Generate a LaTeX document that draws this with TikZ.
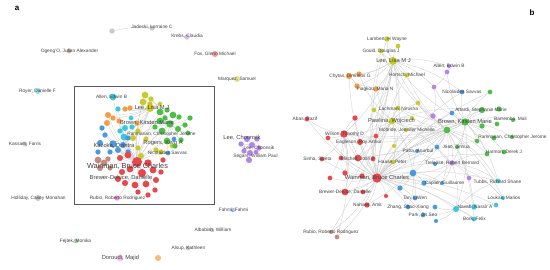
\documentclass[tikz,border=0pt]{standalone}
\usepackage{fontspec}
\setmainfont{Liberation Sans}
\definecolor{vred}{HTML}{E8474C}
\definecolor{vgreen}{HTML}{4DBD45}
\definecolor{vblue}{HTML}{4A98DD}
\definecolor{vyel}{HTML}{CACA2A}
\definecolor{vpurp}{HTML}{B384E3}
\definecolor{vcyan}{HTML}{3BC8DE}
\definecolor{vorng}{HTML}{F39C45}
\definecolor{vbrown}{HTML}{C48A7E}
\definecolor{vpink}{HTML}{EE8BDD}
\definecolor{vgray}{HTML}{C9C9C9}
\definecolor{vlblue}{HTML}{A9CBEF}
\pgfdeclarelayer{bg}
\pgfsetlayers{bg,main}
\tikzset{
  au/.style={circle, inner sep=0pt, minimum size={1.35*#1pt}},
  lbl/.style={font=\fontsize{4.8}{5}\selectfont, text=black!75, inner sep=0pt},
  lblm/.style={font=\fontsize{5.8}{6}\selectfont, text=black!75, inner sep=0pt},
  lblb/.style={font=\fontsize{7.3}{7}\selectfont, text=black!75, inner sep=0pt},
  edge/.style={black!20, line width=0.3pt},
  tag/.style={font=\bfseries\fontsize{8}{8}\selectfont, inner sep=0pt}
}
\begin{document}
\begin{tikzpicture}[x=1pt,y=-1pt]
    \useasboundingbox (0,0) rectangle (550,269);

    % Etiquetas de los paneles
    \node[tag] (pa) at (17,8) {a};
    \node[tag] (pb) at (532,13) {b};

    % Recuadro del panel a
    \node[draw=black!65, line width=0.8pt, minimum width=140pt, minimum height=118pt,
          inner sep=0pt] (zoombox) at (144,145) {};

    % Panel a: autores aislados
    \foreach \n/\x/\y/\c/\s in {ijadA/112/31/vgray/4, ijadB/152/28/vgray/4,
        ikrebs/187/37/vpurp!55/4, iogeng/69/51/vbrown!70/3.5, ifox/215/54/vred!55/4.5,
        imarq/237/79/vyel!55/4.5, iroyer/38/91/vcyan!55/4.5, ikassam/25/144/vgray/3.5,
        iholl/38/198/vgray/4.5, ifahmi/233/210/vlblue/3.5, ialbab/212/230/vgray/3,
        ialsup/188/248/vgray/3.5, iorng/158/258/vorng!70/4.5, ifejtek/76/241/vgreen!55/3.5,
        idor/120/258/vpink!55/5}
        \node[au=\s, fill=\c] (\n) at (\x,\y) {};

    % Panel a: grupo de Lee Choonsik
    \foreach \n/\x/\y/\s in {apA/247/139/4.5, apB/257/139/4, apC/241/144/4, apD/252/145/4.5,
        apE/259/148/4, apF/244/151/4, apG/250/153/4.5, apH/256/152/3.5, apI/249/160/4.5}
        \node[au=\s, fill=vpurp] (\n) at (\x,\y) {};

    % Panel a: red principal
    \foreach \n/\x/\y/\c/\s in {
        ay1/145/95/vyel/5, ay2/151/99/vyel/4, ay3/143/102/vyel/5, ay4/150/104/vyel/4,
        ay5/160/104/vyel/3.5, alee/150/108/vyel/6, ay6/138/131/vyel/4, ay7/133/138/vyel/4.5,
        ay8/146/139/vyel/4, ay9/156/150/vyel/4, ay10/161/152/vyel/4, ay11/138/148/vyel/4,
        ay12/141/156/vyel/4.5, ay13/172/146/vyel/3.5,
        aallen/113/97/vcyan/5, ac1/118/109/vcyan/4, ac2/125/128/vcyan/4.5, ac3/131/118/vcyan/3.5,
        ac4/120/131/vcyan/4, ac5/124/137/vcyan/5, ac6/132/127/vcyan/4,
        ao1/125/109/vorng/4, ao2/130/108/vorng/4, ao3/108/115/vorng/4.5, ao4/113/118/vorng/4,
        ao5/107/123/vorng/4.5, ao6/137/123/vorng/4, ao7/119/121/vorng/4,
        ag1/160/112/vgreen/5, ag2/167/110/vgreen/4, ag3/173/115/vgreen/5, ag4/165/118/vgreen/4,
        ag5/179/117/vgreen/4, ag6/160/121/vgreen/5, abrown/170/124/vgreen/5.5, ag7/185/125/vgreen/4,
        ag8/178/129/vgreen/4.5, ag9/162/131/vgreen/5, ag10/190/118/vgreen/4, ag11/181/140/vgreen/4,
        arogers/167/141/vgreen/5, ag12/175/146/vgreen/4, ag13/188/133/vgreen/3.5, ag14/155/127/vgreen/4,
        ab1/100/143/vblue/4.5, ab2/98/152/vblue/4, ab3/105/135/vblue/4, akaz/113/144/vblue/5.5,
        ab4/118/150/vblue/4.5, ab5/110/152/vblue/4, ab6/123/145/vblue/4.5, ab7/128/152/vblue/4,
        ab8/102/128/vblue/4, ab9/128/138/vblue/4, anic/168/153/vblue/3.5, ab10/174/139/vblue/3.5,
        ar1/120/158/vred/4.5, ar2/128/155/vred/5, awain/137/162/vred/7.5, ar3/148/163/vred/5.5,
        ar4/130/169/vred/5, ar5/142/173/vred/6, ar6/122/172/vred/4.5, ar7/153/170/vred/5,
        ar8/156/180/vred/4.5, ar9/146/184/vred/5, ar10/135/185/vred/5, ar11/125/183/vred/4.5,
        ar12/161/172/vred/4, ar13/163/160/vred/4, ar14/148/195/vred/4, ar15/118/179/vred/4.5,
        ar16/138/192/vred/4, ar17/155/190/vred/4,
        abr1/98/160/vbrown/5, abr2/104/163/vbrown/5, abr3/100/168/vbrown/4.5, abr4/108/159/vbrown/4,
        abr5/110/168/vbrown/4, arubio/117/198/vpink/4}
        \node[au=\s, fill=\c] (\n) at (\x,\y) {};

    % Panel b: nodos
    \foreach \n/\x/\y/\c/\s in {
        lambert/387/39/vyel/4, ybA/398/46/vyel/3.5, gould/381/51/vyel/3.5, leeb/393/61/vyel/6,
        hortsch/407/75/vyel/3.5, ybB/374/110/vyel/3.5, lachman/398/108/vyel/3.5, ybC/418/103/vyel/3.5,
        pawlina/392/121/vyel/5, ybD/412/118/vyel/3, mcbride/406/130/vyel/3, ybE/394/146/vyel/3,
        haase/393/162/vyel/3.5,
        chytasA/349/76/vorng/4.5, chytasB/359/74/vorng/4, piagA/357/86/vorng/4, piagB/376/89/vorng/4,
        allenA/449/66/vpurp/3, allenB/447/72/vpurp/3.5, pbC/434/87/vpurp/3.5, pbD/433/116/vpurp/4,
        trelease/452/163/vpurp/4, pbF/469/178/vpurp/3.5,
        nicol/462/92/vblue/3.5, bbB/452/113/vblue/3.5, xiao/437/147/vblue/3.5, patra/417/151/vblue/3,
        bbE/435/164/vblue/3, bbF/413/173/vblue/5, bbG/424/183/vblue/4, caplier/442/183/vblue/3,
        bbJ/400/188/vblue/4, tan/415/198/vblue/3.5, zhang/408/207/vblue/3.5, park/423/215/vblue/3.5,
        bbN/435/207/vblue/3.5, bbO/436/221/vblue/3,
        gbA/490/92/vgreen/3.5, attardiA/482/110/vgreen/4.5, attardiB/499/109/vgreen/4,
        barA/513/120/vgreen/3, barB/497/124/vgreen/3.5, brownA/465/122/vgreen/5.5,
        brownB/447/130/vgreen/5, brownC/482/126/vgreen/4, xiaog/457/147/vgreen/3,
        ramA/477/141/vgreen/3.5, ramB/494/138/vgreen/3.5, ramC/512/137/vgreen/3,
        harmA/487/154/vgreen/3.5, harmB/504/152/vgreen/3.5,
        tubbs/498/181/vcyan/3.5, loukA/503/198/vcyan/3, loukB/496/205/vcyan/3.5,
        navabA/456/209/vcyan/4.5, navabB/474/207/vcyan/4, bork/474/219/vcyan/3.5,
        abas/307/119/vred/3.5, rbB/355/118/vred/4, wilson/344/134/vred/5.5, rbD/328/138/vred/3.5,
        rbE/376/136/vred/3.5, eagle/360/142/vred/4.5, sinha/322/159/vred/3.5, mitchA/341/158/vred/3.5,
        mitchB/358/158/vred/5, mitchC/373/159/vred/3.5, rbK/345/173/vred/4, rbL/362/176/vred/4,
        rbM/330/178/vred/3.5, wainb/377/178/vred/7, brewA/345/192/vred/5, brewB/363/192/vred/3.5,
        rbQ/386/196/vred/3, nahass/367/205/vred/4,
        rubioA/331/232/vbrown/3, rubioB/337/237/vbrown/3.5}
        \node[au=\s, fill=\c] (\n) at (\x,\y) {};

    % Enlaces (en el fondo)
    \begin{pgfonlayer}{bg}
    \draw[edge] (ijadA) to[bend left=8] (ijadB);
    \foreach \a/\b in {apA/apD, apA/apC, apB/apD, apD/apG, apC/apF, apF/apG, apG/apI,
        apE/apH, apD/apH, apB/apE, apA/apG, apC/apD}
        \draw[edge] (\a) -- (\b);
    \foreach \a in {ay1,ay3,alee,ay6,ay7,ay8,ay9,ay11,ay12,aallen,ac1,ac2,ac4,ac5,ao3,ao5,ao7,
        ag1,ag6,abrown,ag9,arogers,ab1,ab3,akaz,ab4,ab6,ab8,anic,ar1,ar3,ar5,ar7,ar9,ar10,
        ar14,ar16,ar17,abr1,abr3,arubio}
        \draw[edge] (awain) to[bend left=10] (\a);
    \foreach \a in {ay1,ay2,ag1,ag3,ag5,ag7,ag8,ag10,ag11,ag13,ac2,ac6,ao6,ay7,ay9,ab10,anic}
        \draw[edge] (abrown) to[bend right=10] (\a);
    \foreach \a in {ay1,ay4,ay5,ac1,ao1,ao2,ao3,ao4,ac3,ay6,akaz,ab9}
        \draw[edge] (alee) to[bend left=10] (\a);
    \foreach \a/\b in {
        wainb/wilson, wainb/eagle, wainb/mitchA, wainb/mitchB, wainb/mitchC, wainb/sinha,
        wainb/rbK, wainb/rbL, wainb/rbM, wainb/brewA, wainb/brewB, wainb/rbQ, wainb/nahass,
        wainb/rubioA, wainb/rubioB, wainb/abas, wainb/rbB, wainb/rbD, wainb/rbE, wainb/pawlina,
        wainb/leeb, wainb/lachman, wainb/haase, wainb/ybE, wainb/mcbride, wainb/bbF, wainb/bbG,
        wainb/bbJ, wainb/tan, wainb/zhang, wainb/park, wainb/caplier, wainb/trelease, wainb/xiao,
        wainb/brownA, wainb/brownB, wainb/attardiA, wainb/ramA, wainb/harmA, wainb/tubbs,
        wainb/navabA, wainb/navabB, wainb/loukB, wainb/bork, wainb/patra, wainb/chytasA,
        wainb/piagB, wainb/hortsch, wainb/lambert, wainb/gould, wainb/pbD, wainb/nicol,
        wainb/bbB, wainb/gbA,
        brownA/brownB, brownA/brownC, brownA/attardiA, brownA/attardiB, brownA/barA, brownA/barB,
        brownA/ramA, brownA/ramB, brownA/ramC, brownA/harmA, brownA/harmB, brownA/xiaog,
        brownA/gbA, brownA/nicol, brownA/bbB, brownA/pbD, brownA/pawlina, brownA/leeb,
        brownA/trelease, brownA/wilson, brownA/mitchB, brownA/tubbs, brownA/navabA, brownA/eagle,
        brownA/lachman, brownA/allenB, brownA/pbC,
        brownB/pawlina, brownB/leeb, brownB/lachman, brownB/ybC, brownB/mcbride, brownB/trelease,
        brownB/bbF, brownB/xiao, brownB/caplier, brownB/wilson, brownB/mitchB, brownB/brewA,
        brownB/nahass, brownB/ramA, brownB/harmA, brownB/tubbs, brownB/loukA, brownB/navabB,
        brownB/bork, brownB/hortsch, brownB/gould,
        leeb/lambert, leeb/gould, leeb/ybA, leeb/hortsch, leeb/chytasA, leeb/chytasB, leeb/piagA,
        leeb/piagB, leeb/pawlina, leeb/lachman, leeb/ybB, leeb/wilson, leeb/eagle, leeb/mitchB,
        leeb/brewA, leeb/rubioA, leeb/haase, leeb/allenA, leeb/pbC, leeb/nicol,
        pawlina/lachman, pawlina/ybB, pawlina/ybC, pawlina/ybD, pawlina/mcbride, pawlina/ybE,
        pawlina/haase, pawlina/wilson, pawlina/eagle, pawlina/mitchB, pawlina/rbE,
        pawlina/trelease, pawlina/bbF, pawlina/attardiA, pawlina/piagB, pawlina/chytasB,
        wilson/abas, wilson/rbB, wilson/rbD, wilson/eagle, wilson/sinha, wilson/mitchA,
        wilson/mitchB, wilson/rbK, wilson/rbM, wilson/brewA, wilson/rubioB,
        trelease/patra, trelease/bbF, trelease/bbG, trelease/caplier, trelease/tubbs,
        trelease/pbF, trelease/navabA, trelease/loukA, trelease/harmA, trelease/xiao,
        navabA/navabB, navabA/bork, navabA/loukB, navabA/park, navabA/bbN, navabA/bbO,
        navabA/tubbs, bbF/bbG, bbF/bbJ, bbF/tan, bbF/zhang, bbF/patra, bbF/caplier,
        allenA/allenB, allenB/pbC, pbC/pbD, chytasA/chytasB, piagA/piagB, chytasA/piagA}
        \draw[edge] (\a) to[bend left=12] (\b);
    \end{pgfonlayer}

    % Nombres del panel a
    \node[lbl] (l-jad) at (152,27) {Jadeski, Lorraine C};
    \node[lbl] (l-krebs) at (187,36) {Krebs, Claudia};
    \node[lbl] (l-ogeng) at (69.5,51) {Ogeng'O, Julian Alexander};
    \node[lbl] (l-fox) at (215,54) {Fox, Glenn Michael};
    \node[lbl] (l-marq) at (237,79) {Marquez, Samuel};
    \node[lbl] (l-royer) at (37.5,91) {Royer, Danielle F};
    \node[lbl] (l-kassam) at (25,144) {Kassam, Farris};
    \node[lbl] (l-holl) at (38.5,198) {Holliday, Casey Monahan};
    \node[lbl] (l-allen) at (111.5,97) {Allen, Edwin B};
    \node[lblm] (l-lee) at (152,108) {Lee, Lisa M J};
    \node[lblm] (l-brown) at (147,123) {Brown, Kirsten Marie};
    \node[lbl] (l-ram) at (161.5,134) {Ramnanan, Christopher Jerome};
    \node[lblm] (l-kaz) at (114,146) {Kazoka, Dzintra};
    \node[lblm] (l-rogers) at (163,143) {Rogers, Kem A};
    \node[lbl] (l-nic) at (167.5,153) {Nicolaides Savvas};
    \node[lblb] (l-wain) at (127.5,166) {Wainman, Bruce Charles};
    \node[lblm] (l-brew) at (121,178) {Brewer-Deluce, Danielle};
    \node[lbl] (l-rubio) at (117.5,198) {Rubio, Roberto Rodriguez};
    \node[lblm] (l-choA) at (242,138) {Lee, Choonsik};
    \node[lbl] (l-choB) at (259,148) {Lee, Choonsik};
    \node[lbl] (l-segars) at (255.5,156) {Segars, William Paul};
    \node[lbl] (l-fahmi) at (233.5,210) {Fahmi, Fahmi};
    \node[lbl] (l-albab) at (213,230) {Albabish, William};
    \node[lbl] (l-alsup) at (188.5,248) {Alsup, Kathleen};
    \node[lbl] (l-fejtek) at (75.5,241) {Fejtek, Monika};
    \node[lblm] (l-dor) at (120.5,258) {Doroudi, Majid};

    % Nombres del panel b
    \node[lbl] (m-lambert) at (387,39) {Lambert, H Wayne};
    \node[lbl] (m-gould) at (381,51) {Gould, Douglas J};
    \node[lblm] (m-lee) at (393.5,61) {Lee, Lisa M J};
    \node[lbl] (m-chytas) at (350,76) {Chytas, Dimitrios G};
    \node[lbl] (m-hortsch) at (407,75) {Hortsch, Michael};
    \node[lbl] (m-allen) at (449,66) {Allen, Edwin B};
    \node[lbl] (m-piag) at (375,89) {Piagkou, Maria N};
    \node[lbl] (m-nic) at (462,92) {Nicolaides Savvas};
    \node[lbl] (m-abas) at (305,119) {Abas, Razif};
    \node[lbl] (m-lach) at (398.5,109) {Lachman, Nirusha};
    \node[lblm] (m-pawlina) at (391.5,121) {Pawlina, Wojciech};
    \node[lbl] (m-mcbride) at (407,130) {Mcbride, Jennifer Michelle};
    \node[lbl] (m-wilson) at (344.5,134) {Wilson, Timothy D};
    \node[lbl] (m-eagle) at (359,142) {Eagleson, Roy Arthur};
    \node[lbl] (m-patra) at (418,151) {Patra, Anurbul};
    \node[lbl] (m-sinha) at (317.5,159) {Sinha, Sweta};
    \node[lbl] (m-mitch) at (358,159) {Mitchell, Josh P};
    \node[lbl] (m-haase) at (392.5,162) {Haase, Peter};
    \node[lbl] (m-trelease) at (452,163) {Trelease, Robert Bernard};
    \node[lblm] (m-wain) at (377,178) {Wainman, Bruce Charles};
    \node[lbl] (m-brew) at (345,192) {Brewer-Deluce, Danielle};
    \node[lbl] (m-nahass) at (367.5,205) {Nahass, Amit};
    \node[lbl] (m-tan) at (415,198) {Tan, LiWen};
    \node[lbl] (m-zhang) at (408,207) {Zhang, Shao-Xiang};
    \node[lbl] (m-park) at (423,215) {Park, Jin Seo};
    \node[lbl] (m-rubio) at (331,232) {Rubio, Roberto Rodriguez};
    \node[lbl] (m-caplier) at (444.5,183) {Caplier, Guillaume};
    \node[lbl] (m-xiao) at (456.5,147) {Xiao, Jinhua};
    \node[lbl] (m-ram) at (512.5,137) {Ramnanan, Christopher Jerome};
    \node[lbl] (m-harm) at (504,152) {Harmon, Derek J};
    \node[lbl] (m-attardi) at (481,110) {Attardi, Stephanie Marie};
    \node[lbl] (m-bar) at (510.5,119) {Barremba, Mali};
    \node[lblm] (m-brown) at (465,122) {Brown, Kirsten Marie};
    \node[lbl] (m-tubbs) at (497.5,182) {Tubbs, Richard Shane};
    \node[lbl] (m-louk) at (504,198) {Loukas, Marios};
    \node[lbl] (m-navab) at (475,207) {Navab, Nassir A};
    \node[lbl] (m-bork) at (474.5,219) {Bork, Felix};
\end{tikzpicture}
\end{document}
